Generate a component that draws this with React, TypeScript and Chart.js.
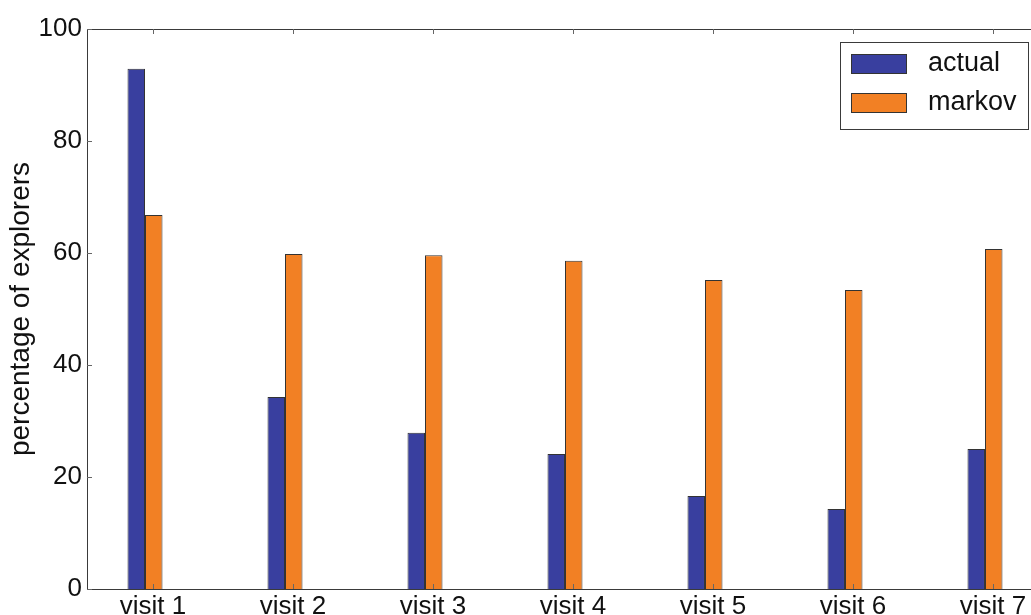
import React, { useEffect, useRef } from "react";
import { Chart, registerables } from "chart.js";

Chart.register(...registerables);

const categories = ["visit 1", "visit 2", "visit 3", "visit 4", "visit 5", "visit 6", "visit 7"];
const actualValues = [92.9, 34.3, 27.9, 24.1, 16.6, 14.3, 25.0];
const markovValues = [66.8, 59.8, 59.6, 58.6, 55.2, 53.4, 60.7];
const seriesNames = ["actual", "markov"];
const seriesColors = ["#393F9F", "#F28024"];
const yAxisTitle = "percentage of explorers";

const FONT = "'Liberation Sans', Arial, Helvetica, sans-serif";
const LABEL_SHIFT = 8;
const CANVAS_W = 1040;
const CANVAS_H = 650;

const framePlugin = {
  id: "frameAndLegend",
  afterDatasetsDraw(chart: any) {
    const { ctx, chartArea: a, scales } = chart;
    ctx.save();
    ctx.strokeStyle = "#3a3a3a";
    ctx.lineWidth = 1;
    ctx.strokeRect(a.left + 0.5, a.top + 0.5, a.right - a.left, a.bottom - a.top);
    const line = (x1: number, y1: number, x2: number, y2: number) => {
      ctx.beginPath();
      ctx.moveTo(x1, y1);
      ctx.lineTo(x2, y2);
      ctx.stroke();
    };
    ctx.strokeStyle = "#666";
    const ys = scales.y;
    ys.ticks.forEach((t: any) => {
      const p = Math.round(ys.getPixelForValue(t.value)) + 0.5;
      line(a.left, p, a.left + 5, p);
      line(a.right - 5, p, a.right, p);
    });
    const xs = scales.x;
    xs.ticks.forEach((t: any) => {
      if (!Number.isInteger(t.value)) return;
      const p = Math.round(xs.getPixelForValue(t.value) + LABEL_SHIFT) + 0.5;
      line(p, a.top, p, a.top + 5);
      line(p, a.bottom - 5, p, a.bottom);
    });

    // legend (upper right, inside the axes)
    const boxW = 188;
    const boxH = 87;
    const bx = a.right - 12 - boxW;
    const by = a.top + 13;
    ctx.fillStyle = "#ffffff";
    ctx.fillRect(bx, by, boxW, boxH);
    ctx.strokeStyle = "#3a3a3a";
    ctx.strokeRect(bx + 0.5, by + 0.5, boxW, boxH);
    ctx.font = `27px ${FONT}`;
    ctx.textBaseline = "middle";
    ctx.textAlign = "left";
    chart.data.datasets.forEach((ds: any, i: number) => {
      const cy = by + 22 + i * 39;
      ctx.fillStyle = ds.backgroundColor;
      ctx.fillRect(bx + 11, cy - 10, 56, 20);
      ctx.strokeStyle = "#333";
      ctx.strokeRect(bx + 11.5, cy - 9.5, 55, 19);
      ctx.fillStyle = "#111";
      ctx.fillText(ds.label, bx + 88, cy);
    });
    ctx.restore();
  },
};

export default function App() {
  const canvasRef = useRef<HTMLCanvasElement | null>(null);

  useEffect(() => {
    document.body.style.margin = "0";
    const canvas = canvasRef.current;
    if (!canvas) return;
    const chart = new Chart(canvas, {
      type: "bar",
      data: {
        datasets: [
          {
            label: seriesNames[0],
            data: actualValues.map((v, i) => ({ x: i, y: v })),
            backgroundColor: seriesColors[0],
            borderColor: "#333",
            borderWidth: 1,
            categoryPercentage: 0.25,
            barPercentage: 1,
          },
          {
            label: seriesNames[1],
            data: markovValues.map((v, i) => ({ x: i, y: v })),
            backgroundColor: seriesColors[1],
            borderColor: "#333",
            borderWidth: 1,
            categoryPercentage: 0.25,
            barPercentage: 1,
          },
        ],
      },
      options: {
        responsive: false,
        animation: false,
        layout: { padding: { top: 29, left: 0, right: 0, bottom: 0 } },
        plugins: { legend: { display: false }, tooltip: { enabled: false } },
        scales: {
          x: {
            type: "linear",
            offset: false,
            min: -0.4143,
            max: 6.393,
            grid: { display: false, drawTicks: false },
            border: { display: false },
            afterFit: (s: any) => {
              s.height = CANVAS_H - 589;
            },
            ticks: {
              stepSize: 1,
              autoSkip: false,
              includeBounds: false,
              maxRotation: 0,
              labelOffset: LABEL_SHIFT,
              padding: 2,
              color: "#111",
              font: { family: FONT, size: 26 },
              callback: (v: any) => (Number.isInteger(v) ? categories[v as number] ?? "" : ""),
            },
          },
          y: {
            min: 0,
            max: 100,
            grid: { display: false, drawTicks: false },
            border: { display: false },
            afterFit: (s: any) => {
              s.width = 87;
            },
            ticks: {
              stepSize: 20,
              padding: 5,
              color: "#111",
              font: { family: FONT, size: 26 },
            },
            title: {
              display: true,
              text: yAxisTitle,
              color: "#111",
              padding: { top: 4, bottom: 0 },
              font: { family: FONT, size: 28 },
            },
          },
        },
      },
      plugins: [framePlugin],
    });
    return () => chart.destroy();
  }, []);

  return (
    <div
      style={{
        position: "fixed",
        left: 0,
        top: 0,
        width: 1031,
        height: 615,
        overflow: "hidden",
        background: "#fff",
      }}
    >
      <canvas ref={canvasRef} width={CANVAS_W} height={CANVAS_H} style={{ display: "block" }} />
    </div>
  );
}
